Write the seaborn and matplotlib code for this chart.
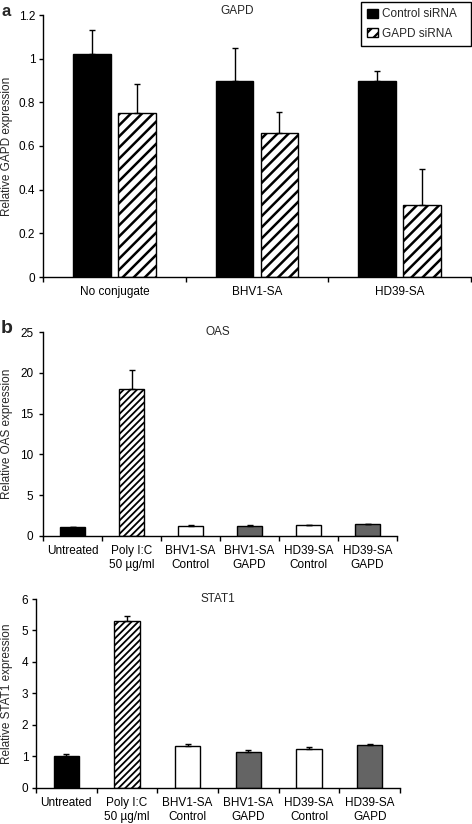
import numpy as np
import pandas as pd
import matplotlib
matplotlib.use("Agg")
import matplotlib.pyplot as plt
import seaborn as sns
from matplotlib.ticker import FuncFormatter
from matplotlib.container import BarContainer

# ---------------- data ----------------
gapd_categories = ["No conjugate", "BHV1-SA", "HD39-SA"]
gapd_series = ["Control siRNA", "GAPD siRNA"]
control_vals = [1.02, 0.90, 0.90]
control_err = [0.11, 0.15, 0.045]
gapd_vals = [0.75, 0.66, 0.33]
gapd_err = [0.135, 0.095, 0.165]

treat_labels = ["Untreated", "Poly I:C\n50 \u00b5g/ml", "BHV1-SA\nControl",
                "BHV1-SA\nGAPD", "HD39-SA\nControl", "HD39-SA\nGAPD"]
oas_vals = [1.05, 18.0, 1.22, 1.15, 1.3, 1.4]
oas_err = [0.06, 2.4, 0.08, 0.12, 0.07, 0.08]
stat1_vals = [1.0, 5.3, 1.33, 1.12, 1.24, 1.35]
stat1_err = [0.07, 0.16, 0.07, 0.08, 0.07, 0.03]

treat_colors = ["black", "white", "white", "#646464", "white", "#646464"]
treat_hatch = [None, "/////", None, None, None, None]

sns.set_theme(style="ticks")
plt.rcParams["font.family"] = ["Liberation Sans", "DejaVu Sans"]
plt.rcParams["font.size"] = 8.5
plt.rcParams["axes.linewidth"] = 1.0
plt.rcParams["axes.edgecolor"] = "black"
plt.rcParams["xtick.color"] = "black"
plt.rcParams["ytick.color"] = "black"
plt.rcParams["hatch.linewidth"] = 1.6

W, H = 472, 824
fig = plt.figure(figsize=(W / 100, H / 100), dpi=100)


def px_axes(l, t, r, b):
    return fig.add_axes([l / W, 1 - b / H, (r - l) / W, (b - t) / H])


def set_hatch(b, h, lw):
    b.set_hatch(h)
    if hasattr(b, "set_hatch_linewidth"):
        b.set_hatch_linewidth(lw)


def style_axis(ax, n, labels, ylim, yticks, ypad, xpad):
    ax.set_ylim(*ylim)
    ax.set_yticks(yticks)
    ax.yaxis.set_major_formatter(FuncFormatter(lambda v, p: f"{v:g}"))
    ax.set_xlim(-0.5, n - 0.5)
    ax.set_xticks(np.arange(n + 1) - 0.5)
    ax.set_xticklabels([])
    ax.set_xticks(np.arange(n), minor=True)
    ax.set_xticklabels(labels, minor=True, fontsize=8.5)
    ax.tick_params(axis="x", which="minor", length=0, pad=xpad)
    ax.tick_params(axis="x", which="major", length=3.5, width=1, direction="out")
    ax.tick_params(axis="y", length=3, width=1, pad=ypad, labelsize=8.5)
    ax.set_xlabel("")
    sns.despine(ax=ax)


def bar_containers(ax):
    return [c for c in ax.containers if isinstance(c, BarContainer)]


# ---------------- panel a ----------------
ax1 = px_axes(43, 15, 471, 277)
df_a = pd.DataFrame({
    "cat": gapd_categories * 2,
    "series": [gapd_series[0]] * 3 + [gapd_series[1]] * 3,
    "val": control_vals + gapd_vals,
})
sns.barplot(data=df_a, x="cat", y="val", hue="series", ax=ax1,
            palette=["black", "white"], edgecolor="black", linewidth=1,
            width=0.63, gap=0.156, errorbar=None, legend=False)
errs_a = [control_err, gapd_err]
vals_a = [control_vals, gapd_vals]
conts_a = bar_containers(ax1)
for i, cont in enumerate(conts_a):
    xs = [b.get_x() + b.get_width() / 2 for b in cont]
    if i == 1:
        for b in cont:
            set_hatch(b, "///", 1.8)
    ax1.errorbar(xs, vals_a[i], yerr=[[0] * 3, errs_a[i]], fmt="none",
                 ecolor="black", elinewidth=1, capsize=2.5, capthick=1, zorder=1)
style_axis(ax1, 3, gapd_categories, (0, 1.2), np.arange(0, 1.21, 0.2), 2.5, 6.5)
ax1.set_ylabel("Relative GAPD expression", fontsize=8.5)
ax1.yaxis.set_label_coords((13 - 43) / 428, 0.5)
ax1.text((237 - 43) / 428, (277 - 11) / 262, "GAPD", transform=ax1.transAxes,
         ha="center", va="center", fontsize=8.5)
leg = ax1.legend(handles=conts_a, labels=gapd_series,
                 loc="upper left", mode="expand",
                 bbox_to_anchor=(361 / W, 1 - 44 / H, 110 / W, 42 / H),
                 bbox_transform=fig.transFigure, fancybox=False,
                 edgecolor="black", framealpha=1, fontsize=8.5,
                 handlelength=0.85, handleheight=0.85, handletextpad=0.35,
                 borderpad=0.55, labelspacing=0.6, borderaxespad=0)
leg.get_frame().set_linewidth(1)
fig.text(1 / W, 1 - 12 / H, "a", fontsize=12, fontweight="bold", va="center", ha="left")


# ---------------- panels b/c ----------------
def treat_panel(ax, vals, errs, ylim, yticks, ypad, ylabel):
    df = pd.DataFrame({"cond": treat_labels, "val": vals})
    sns.barplot(data=df, x="cond", y="val", hue="cond", ax=ax,
                palette=treat_colors, edgecolor="black", linewidth=1,
                width=0.42, errorbar=None, legend=False, dodge=False)
    bars = [b for cont in bar_containers(ax) for b in cont]
    bars = sorted(bars, key=lambda b: b.get_x())
    xs = [b.get_x() + b.get_width() / 2 for b in bars]
    for b, h in zip(bars, treat_hatch):
        if h:
            set_hatch(b, h, 1.3)
    ax.errorbar(xs, vals, yerr=[[0] * len(vals), errs], fmt="none",
                ecolor="black", elinewidth=1, capsize=2.5, capthick=1, zorder=1)
    style_axis(ax, len(vals), treat_labels, ylim, yticks, ypad, 6.5)
    ax.set_ylabel(ylabel, fontsize=8.5)


ax2 = px_axes(43, 332.3, 397, 535.7)
treat_panel(ax2, oas_vals, oas_err, (0, 25), np.arange(0, 26, 5), 4, "Relative OAS expression")
ax2.yaxis.set_label_coords((13 - 43) / 354, 0.5)
ax2.text(0.494, 1.0, "OAS", transform=ax2.transAxes, ha="center", va="center", fontsize=8.5)
fig.text(1 / W, 1 - 328 / H, "b", fontsize=14, fontweight="bold", va="center", ha="left")

ax3 = px_axes(36, 599, 400, 787.7)
treat_panel(ax3, stat1_vals, stat1_err, (0, 6), np.arange(0, 7, 1), 2.5, "Relative STAT1 expression")
ax3.yaxis.set_label_coords((13 - 36) / 364, 0.5)
ax3.text(0.5, 1.0, "STAT1", transform=ax3.transAxes, ha="center", va="center", fontsize=8.5)

fig.savefig("out.png", dpi=100)
